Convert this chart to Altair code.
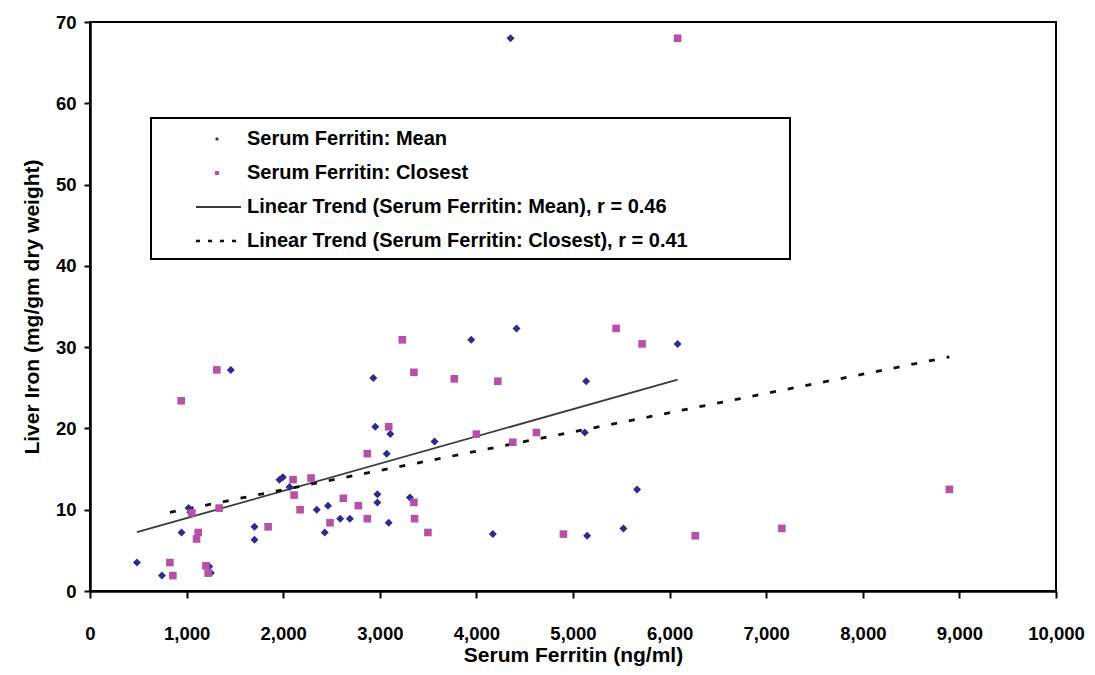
import altair as alt
import pandas as pd

# Serum Ferritin: Mean (blue diamonds)
mean_x = [486, 745, 948, 1020, 1040, 1234, 1251, 1458, 1703, 1703, 1961, 1996, 2065,
          2347, 2430, 2464, 2590, 2690, 2933, 2953, 2975, 2975, 3071, 3092, 3109, 3312,
          3567, 3947, 4170, 4353, 4415, 5122, 5136, 5146, 5522, 5663, 6083]
mean_y = [3.5, 1.9, 7.2, 10.2, 9.7, 3.0, 2.2, 27.2, 7.9, 6.3, 13.7, 14.0, 12.8,
          10.0, 7.2, 10.5, 8.9, 8.9, 26.2, 20.2, 11.9, 10.9, 16.9, 8.4, 19.3, 11.5,
          18.4, 30.9, 7.0, 68.0, 32.3, 19.5, 25.8, 6.8, 7.7, 12.5, 30.4]

# Serum Ferritin: Closest (pink squares)
closest_x = [827, 858, 944, 1055, 1103, 1120, 1200, 1223, 1313, 1337, 1844, 2102, 2113,
             2175, 2288, 2485, 2623, 2778, 2871, 2871, 3092, 3233, 3353, 3353, 3360, 3498,
             3771, 4000, 4222, 4377, 4622, 4901, 5446, 5715, 6083, 6266, 7162, 8896]
closest_y = [3.5, 1.9, 23.4, 9.6, 6.4, 7.2, 3.1, 2.2, 27.2, 10.2, 7.9, 13.7, 11.8,
             10.0, 13.9, 8.4, 11.4, 10.5, 16.9, 8.9, 20.2, 30.9, 26.9, 10.9, 8.9, 7.2,
             26.1, 19.3, 25.8, 18.3, 19.5, 7.0, 32.3, 30.4, 68.0, 6.8, 7.7, 12.5]

# Linear trend endpoints
trend_mean_x = [486, 6083]
trend_mean_y = [7.24, 26.0]
trend_closest_x = [827, 8896]
trend_closest_y = [9.68, 28.8]

legend_labels = [
    "Serum Ferritin: Mean",
    "Serum Ferritin: Closest",
    "Linear Trend (Serum Ferritin: Mean), r = 0.46",
    "Linear Trend (Serum Ferritin: Closest), r = 0.41",
]

BLUE = "#2B2C8C"
PINK = "#B552A6"
FONT = "Liberation Sans"

df_mean = pd.DataFrame({"x": mean_x, "y": mean_y})
df_closest = pd.DataFrame({"x": closest_x, "y": closest_y})
df_tm = pd.DataFrame({"x": trend_mean_x, "y": trend_mean_y})
df_tc = pd.DataFrame({"x": trend_closest_x, "y": trend_closest_y})

xscale = alt.Scale(domain=[0, 10000], nice=False, zero=True)
yscale = alt.Scale(domain=[0, 70], nice=False)

xaxis = alt.Axis(title="Serum Ferritin (ng/ml)", values=list(range(0, 10001, 1000)),
                 format=",.0f", grid=False, labelFlush=False, labelOverlap=False)
yaxis = alt.Axis(title="Liver Iron (mg/gm dry weight)", values=list(range(0, 71, 10)),
                 format="d", grid=False, labelFlush=False, labelOverlap=False)

X = alt.X("x:Q", scale=xscale, axis=xaxis)
Y = alt.Y("y:Q", scale=yscale, axis=yaxis)

trend_mean = alt.Chart(df_tm).mark_line(color="#3a3a3a", strokeWidth=1.8).encode(x=X, y=Y)
trend_closest = alt.Chart(df_tc).mark_line(color="#111111", strokeWidth=2.8,
                                           strokeDash=[6, 12]).encode(x=X, y=Y)

pts_mean = alt.Chart(df_mean).mark_point(shape="diamond", filled=True, color=BLUE,
                                         size=64, opacity=1).encode(x=X, y=Y)
pts_closest = alt.Chart(df_closest).mark_point(shape="square", filled=True, color=PINK,
                                               size=58, opacity=1).encode(x=X, y=Y)

one = alt.Data(values=[{"a": 1}])

# Legend (drawn in pixel space of the plot area)
LX0, LY0, LX1, LY1 = 61, 96, 700, 237   # box, relative to plot area
rows_y = [117, 151, 185, 219]
sym_x = 127
txt_x = 157

box = alt.Chart(one).mark_rect(fill="white", stroke="black", strokeWidth=2).encode(
    x=alt.value(LX0), x2=alt.value(LX1), y=alt.value(LY0), y2=alt.value(LY1))
leg_m = alt.Chart(one).mark_point(shape="diamond", filled=True, color=BLUE, size=16,
                                  opacity=1).encode(x=alt.value(sym_x), y=alt.value(rows_y[0]))
leg_c = alt.Chart(one).mark_point(shape="square", filled=True, color=PINK, size=16,
                                  opacity=1).encode(x=alt.value(sym_x), y=alt.value(rows_y[1]))
leg_l1 = alt.Chart(one).mark_rule(color="#3a3a3a", strokeWidth=1.8).encode(
    x=alt.value(106), x2=alt.value(151), y=alt.value(rows_y[2]))
leg_l2 = alt.Chart(one).mark_rule(color="#111111", strokeWidth=2.6, strokeDash=[4, 8]).encode(
    x=alt.value(106), x2=alt.value(151), y=alt.value(rows_y[3]))

texts = []
for i, lab in enumerate(legend_labels):
    texts.append(alt.Chart(one).mark_text(align="left", baseline="middle", font=FONT,
                                          fontSize=20, fontWeight="bold", color="black").encode(
        x=alt.value(txt_x), y=alt.value(rows_y[i]), text=alt.value(lab)))

chart = alt.layer(trend_mean, trend_closest, pts_mean, pts_closest,
                  box, leg_m, leg_c, leg_l1, leg_l2, *texts).properties(
    width=966, height=569,
    autosize=alt.AutoSizeParams(type="none"),
    padding={"left": 82, "top": 14, "right": 31, "bottom": 76},
    background="white",
).configure_view(
    stroke="black", strokeWidth=2
).configure_axis(
    domainColor="black", domainWidth=2.5, tickColor="black", tickWidth=2,
    labelFont=FONT, labelFontSize=18.5, labelFontWeight="bold", labelColor="black",
    titleFont=FONT, titleFontSize=21, titleFontWeight="bold", titleColor="black",
).configure_axisX(
    tickSize=7, labelPadding=26, titlePadding=2
).configure_axisY(
    tickSize=6, labelPadding=8, titlePadding=13
)

chart.save("out.html", embed_options={"renderer": "svg", "actions": False})
